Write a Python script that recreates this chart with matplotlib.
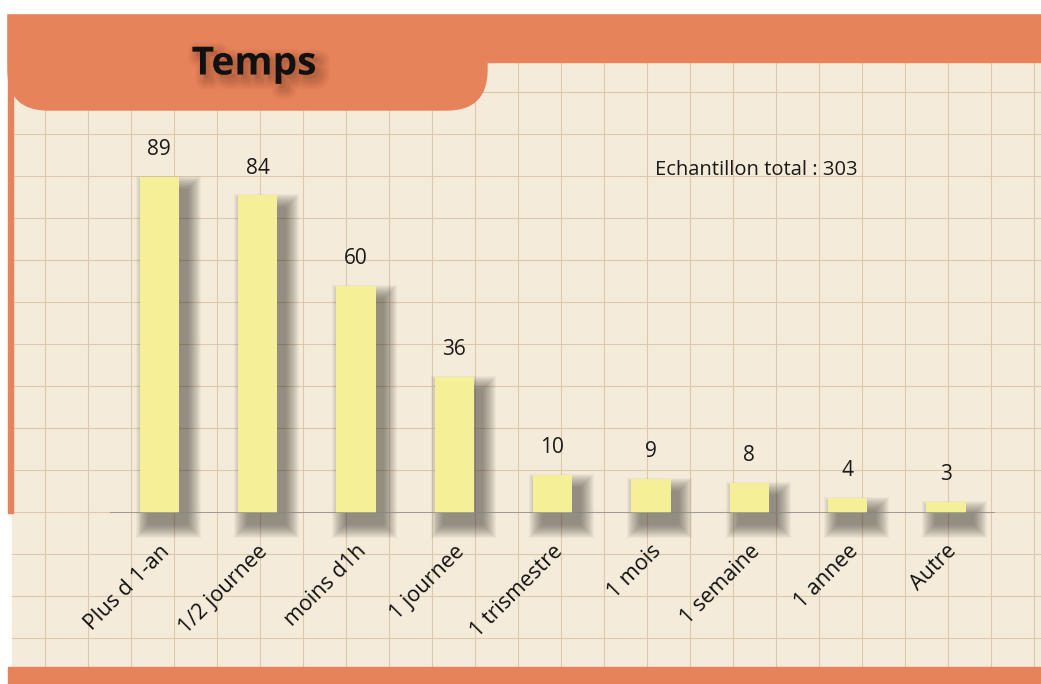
import matplotlib.pyplot as plt
import matplotlib.patheffects as pe
from matplotlib.patches import Rectangle, FancyBboxPatch

categories = ["Plus d 1-an", "1/2 journee", "moins d1h", "1 journee", "1 trismestre",
              "1 mois", "1 semaine", "1 annee", "Autre"]
counts = [89, 84, 60, 36, 10, 9, 8, 4, 3]
title = "Temps"
note = "Echantillon total : 303"

plt.rcParams["font.family"] = ["Open Sans", "DejaVu Sans"]

W, H = 1041, 684
orange = "#e7835b"
paper = "#f4ebda"
gridc = "#dcc8aa"

fig = plt.figure(figsize=(W / 100, H / 100), dpi=100, facecolor="white")

# background in pixel coords
bg = fig.add_axes([0, 0, 1, 1])
bg.set_xlim(0, W)
bg.set_ylim(H, 0)
bg.axis("off")
bg.add_patch(Rectangle((12, 13), W - 12, 655, color=paper, zorder=0))
for x in range(45, W, 43):
    bg.plot([x, x], [13, 668], color=gridc, lw=0.8, zorder=1)
for y in range(92, 668, 42):
    bg.plot([12, W], [y, y], color=gridc, lw=0.8, zorder=1)
# orange frame
bg.add_patch(Rectangle((8, 13), 5, 500, color=orange, zorder=2))
bg.add_patch(Rectangle((8, 13), W - 8, 49, color=orange, zorder=2))
bg.add_patch(FancyBboxPatch((8, -30), 479, 140, boxstyle="round,pad=0,rounding_size=40",
                            color=orange, zorder=2))
bg.add_patch(Rectangle((0, 0), W, 13, color="white", zorder=3))
bg.add_patch(Rectangle((8, 667), W - 8, 17, color=orange, zorder=2))

# title with a soft shadow
glow = [pe.SimpleLineShadow(offset=(4, -4), shadow_color="#5a2a14", alpha=0.05, linewidth=w)
        for w in (14, 11, 8, 5, 3)]
bg.text(254, 64, title, fontsize=28, fontweight="bold", color="#111111",
        ha="center", va="center", zorder=5,
        path_effects=glow + [pe.SimplePatchShadow(offset=(3, -3), shadow_rgbFace="#5a2a14", alpha=0.12),
                             pe.Normal()])
bg.text(655, 170, note, fontsize=14.5, color="#1a1a1a", ha="left", va="center", zorder=5)

# bar chart
x0, x1, base, top = 110, 995, 513, 130
ax = fig.add_axes([x0 / W, (H - base) / H, (x1 - x0) / W, (base - top) / H])
ax.patch.set_alpha(0)
pos = list(range(len(counts)))
ax.set_xlim(-0.5, 8.5)
ax.set_ylim(0, (base - top) / 3.78)
px_x = 1 / 98.4   # data units per pixel
px_y = 1 / 3.78
bw = 0.4

# blurred shadow: stack of widened, faint copies shifted right and down
for e in range(0, 14):
    ax.bar([p + 9 * px_x for p in pos], [c + 2 * e * px_y for c in counts],
           bottom=-(12 + e) * px_y, width=bw + 2 * e * px_x,
           color="#2e2a24", alpha=0.045, zorder=1, clip_on=False, lw=0)
ax.bar(pos, counts, width=bw, color="#f5ef98", zorder=3, lw=0)
for p, c in zip(pos, counts):
    ax.text(p, c + 7.2, str(c), ha="center", va="center", fontsize=15, color="#1a1a1a")

ax.axhline(0, color="#8c8c8c", lw=1.8, zorder=4)
for s in ax.spines.values():
    s.set_visible(False)
ax.set_yticks([])
ax.set_xticks(pos)
ax.set_xticklabels(categories, rotation=45, ha="right", rotation_mode="anchor",
                   fontsize=15.5, color="#111111")
ax.tick_params(axis="x", length=0, pad=20)

fig.savefig("out.png", dpi=100, facecolor="white")
